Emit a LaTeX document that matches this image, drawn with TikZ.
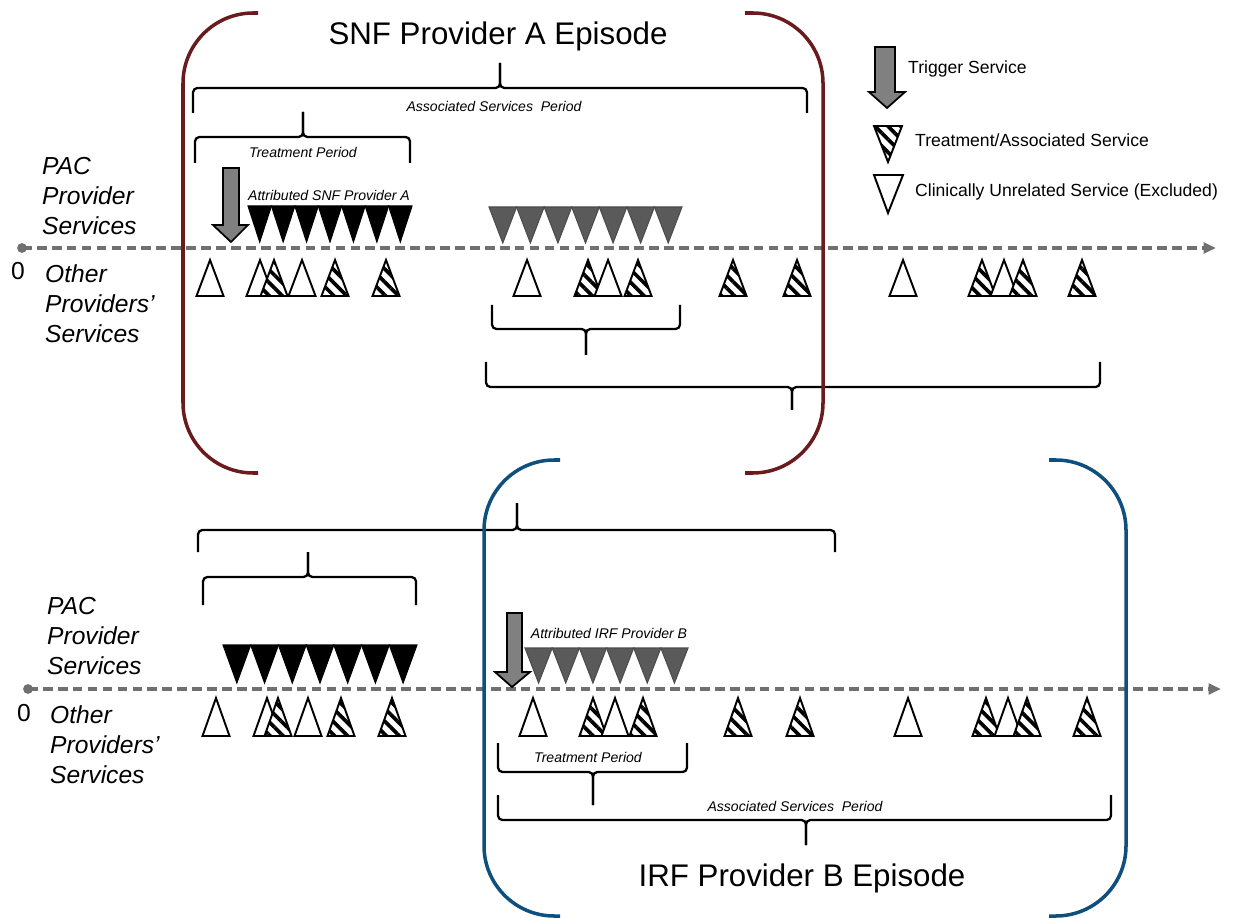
\documentclass[tikz,border=0pt]{standalone}
\usepackage{fontspec}
\setmainfont{Liberation Sans}
\usetikzlibrary{arrows.meta,patterns.meta}
\definecolor{snfred}{HTML}{6A1B1E}
\definecolor{irfblue}{HTML}{0E4F7D}
\definecolor{axisgray}{HTML}{707070}
\definecolor{attgray}{HTML}{5A5A5A}
\tikzset{
  episode/.style={line width=2pt, rounded corners=40pt},
  period/.style={line width=1.3pt, rounded corners=2.5pt},
  timeline/.style={axisgray, line width=1.8pt, dash pattern=on 5.5pt off 3pt,
    -{Triangle[length=7pt,width=6pt]}},
  trigger/.style={draw=black, fill=gray, line width=1pt, line join=miter},
  own/.style={draw=black, fill=black, line width=0.6pt},
  other/.style={draw=black!70, fill=attgray, line width=0.6pt},
  unrel/.style={draw=black, fill=white, line width=1.1pt},
  assoc/.style={draw=black, line width=1.1pt, preaction={fill=white},
    pattern={Lines[angle=-45,distance=5.2pt,line width=2.1pt]}},
  lbl/.style={font=\fontsize{14}{17}\selectfont\itshape, align=left, anchor=west},
  per/.style={font=\fontsize{8}{9.6}\selectfont\itshape},
  leg/.style={font=\fontsize{10}{12}\selectfont, anchor=west},
  title/.style={font=\fontsize{17.8}{21}\selectfont}
}
\begin{document}
\begin{tikzpicture}[x=0.02cm, y=-0.02cm]
\useasboundingbox (0,0) rectangle (1233,918);
% titles
\node[title] (snf) at (498,36) {SNF Provider A Episode};
\node[title] (irf) at (802,878) {IRF Provider B Episode};
% legend
\draw[trigger] (875,47) -- (895,47) -- (895,92) -- (905,92) -- (887,108) -- (869,92) -- (875,92) -- cycle;
\node[leg] (legtrig) at (902,69) {Trigger Service};
\draw[assoc] (874,126) -- (902,126) -- (888,162) -- cycle;
\node[leg] (legassoc) at (909,140) {Treatment/Associated Service};
\draw[unrel] (874,175) -- (903,175) -- (888,213) -- cycle;
\node[leg] (legunrel) at (909,192) {Clinically Unrelated Service (Excluded)};

% ---- top: SNF provider A ----
\node[lbl] (pacA) at (36,196) {PAC\\Provider\\Services};
\node[lbl] (othA) at (39,304) {Other\\Providers'\\Services};
\node[font=\fontsize{14}{17}\selectfont] (zeroA) at (18,271) {0};
\coordinate (sA) at (22,248);
\coordinate (eA) at (1216,248);
\fill[axisgray] (sA) circle (2.8pt);
\draw[timeline] (sA) -- (eA);
% periods
\draw[period] (193,113) |- (500,88) -- (500,63);
\draw[period] (807,113) |- (500,88) -- (500,63);
\node[per] (assocA) at (494,106) {Associated Services~ Period};
\draw[period] (195,163) |- (303,137) -- (303,112);
\draw[period] (410,163) |- (303,137) -- (303,112);
\node[per] (treatA) at (303,152) {Treatment Period};
\draw[period] (492,305) |- (586,329) -- (586,355);
\draw[period] (680,305) |- (586,329) -- (586,355);
\draw[period] (486,362) |- (792,387) -- (792,410);
\draw[period] (1100,362) |- (792,387) -- (792,410);
% provider services
\draw[trigger] (223,168) -- (239,168) -- (239,225) -- (248,225) -- (231,242) -- (213,225) -- (223,225) -- cycle;
\node[per] (attA) at (329,195) {Attributed SNF Provider A};
\foreach \i in {0,...,6}
  \draw[own] ({248+\i*23.43},206) -- ({248+(\i+1)*23.43},206) -- ({248+(\i+0.5)*23.43},242) -- cycle;
\foreach \i in {0,...,6}
  \draw[other] ({489+\i*27.57},207) -- ({489+(\i+1)*27.57},207) -- ({489+(\i+0.5)*27.57},243) -- cycle;
% other providers
\foreach \x/\s in {210/unrel, 260/unrel, 274/assoc, 302/unrel, 335/assoc, 386/assoc,
    527/unrel, 588/assoc, 608/unrel, 638/assoc, 733/assoc, 797/assoc,
    903/unrel, 982/assoc, 1004/unrel, 1023/assoc, 1082/assoc}
  \draw[\s] (\x-13.5,296) -- (\x+13.5,296) -- (\x,260) -- cycle;

% ---- bottom: IRF provider B ----
\node[lbl] (pacB) at (41,636) {PAC\\Provider\\Services};
\node[lbl] (othB) at (44,745) {Other\\Providers'\\Services};
\node[font=\fontsize{14}{17}\selectfont] (zeroB) at (24,713) {0};
\coordinate (sB) at (28,689);
\coordinate (eB) at (1221,689);
\fill[axisgray] (sB) circle (2.8pt);
\draw[timeline] (sB) -- (eB);
% periods
\draw[period] (198,552) |- (517,530) -- (517,503);
\draw[period] (835,552) |- (517,530) -- (517,503);
\draw[period] (203,605) |- (308,577) -- (308,552);
\draw[period] (416,605) |- (308,577) -- (308,552);
\draw[period] (498,743) |- (593,772) -- (593,805);
\draw[period] (687,743) |- (593,772) -- (593,805);
\node[per] (treatB) at (588,757) {Treatment Period};
\draw[period] (498,795) |- (806,820) -- (806,845);
\draw[period] (1111,795) |- (806,820) -- (806,845);
\node[per] (assocB) at (795,806) {Associated Services~ Period};
% provider services
\foreach \i in {0,...,6}
  \draw[own] ({223+\i*27.71},645) -- ({223+(\i+1)*27.71},645) -- ({223+(\i+0.5)*27.71},683) -- cycle;
\draw[trigger] (507,613) -- (522,613) -- (522,672) -- (530,672) -- (512,687) -- (495,672) -- (507,672) -- cycle;
\node[per] (attB) at (609,633) {Attributed IRF Provider B};
\foreach \i in {0,...,5}
  \draw[other] ({525+\i*27.17},648) -- ({525+(\i+1)*27.17},648) -- ({525+(\i+0.5)*27.17},683) -- cycle;
% other providers
\foreach \x/\s in {216/unrel, 267/unrel, 278/assoc, 308/unrel, 341/assoc, 392/assoc,
    533/unrel, 593/assoc, 615/unrel, 643/assoc, 738/assoc, 800/assoc,
    908/unrel, 986/assoc, 1008/unrel, 1027/assoc, 1087/assoc}
  \draw[\s] (\x-13.5,736) -- (\x+13.5,736) -- (\x,698) -- cycle;

% episodes
\draw[episode, snfred] (258,13) -- (183,13) -- (183,473) -- (258,473);
\draw[episode, snfred] (745,13) -- (823,13) -- (823,473) -- (745,473);
\draw[episode, irfblue] (560,460) -- (484,460) -- (484,916) -- (560,916);
\draw[episode, irfblue] (1049,460) -- (1126,460) -- (1126,916) -- (1049,916);
\end{tikzpicture}
\end{document}
